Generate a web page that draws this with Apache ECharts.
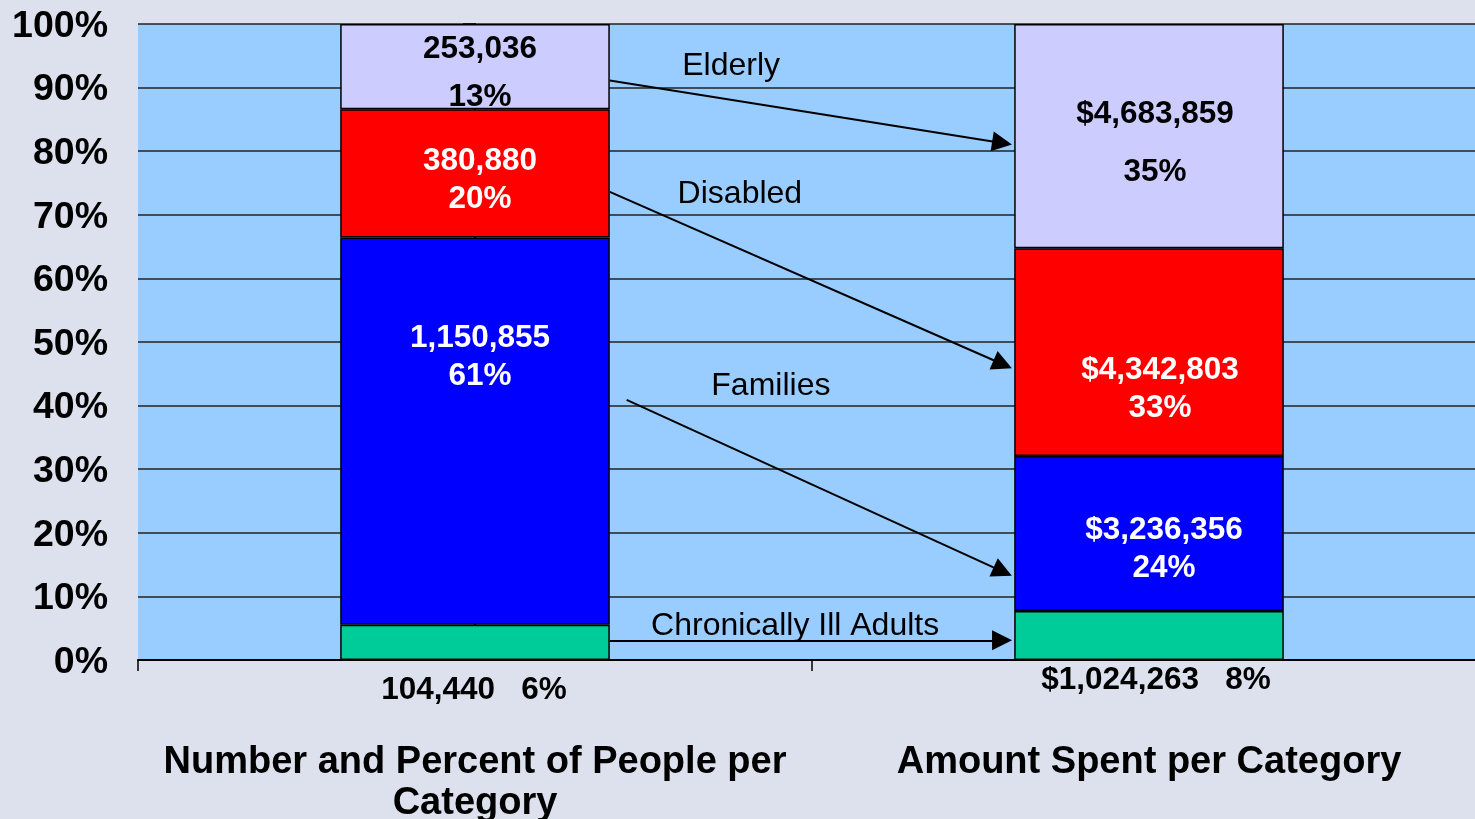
<!DOCTYPE html>
<html>
<head>
<meta charset="utf-8">
<title>People and Spending per Category</title>
<script src="https://cdn.jsdelivr.net/npm/echarts@6/dist/echarts.min.js"></script>
<style>
  html, body { margin: 0; padding: 0; background: #dde1ed; }
  #chart { width: 1475px; height: 819px; }
</style>
</head>
<body>
<div id="chart"></div>
<script>
// Two stacked 100% columns: people per category and dollars spent per category.
const categories = ['Number and Percent of People per\nCategory', 'Amount Spent per Category'];
const valuePrefix = ['', '$'];

const chronicallyIll = [104440, 1024263];
const families = [1150855, 3236356];
const disabled = [380880, 4342803];
const elderly = [253036, 4683859];

const segmentNames = ['Chronically Ill Adults', 'Families', 'Disabled', 'Elderly'];
const segmentValues = [chronicallyIll, families, disabled, elderly];
const segmentColors = ['#00cc99', '#0000ff', '#ff0000', '#ccccff'];
const labelColors = ['#000000', '#ffffff', '#ffffff', '#000000'];

const yTickValues = [0, 10, 20, 30, 40, 50, 60, 70, 80, 90, 100];

// Arrows joining the two columns, in (category position, percent) units.
const arrowLabels = ['Elderly', 'Disabled', 'Families', 'Chronically Ill Adults'];
const arrowStart = [[0.2, 91.1], [0.2, 73.6], [0.225, 40.9], [0.2, 3.1]];
const arrowEnd = [[0.782, 81.3], [0.783, 46.5], [0.783, 13.9], [0.782, 3.1]];
const arrowLabelAt = [[0.380, 93.4], [0.393, 73.2], [0.439, 43.1], [0.475, 5.3]];

const FONT = "'Liberation Sans', Arial, sans-serif";

const totals = categories.map((_, i) => segmentValues.reduce((s, arr) => s + arr[i], 0));
const pct = (s, i) => segmentValues[s][i] / totals[i] * 100;
const fmt = (v) => v.toLocaleString('en-US');

// Label placement per segment and column: [dx, dy, lineHeight]
const labelLayout = [
  [[-1, 48, 34], [7, 45, 34]],
  [[5, -74, 38], [15, 16, 38]],
  [[5, 7, 38], [11, 37, 38]],
  [[5, 7, 48], [6, 7, 58]]
];

const barSeries = segmentNames.map((name, s) => ({
  name: name,
  type: 'bar',
  stack: 'share',
  barWidth: '40%',
  xAxisIndex: 0,
  yAxisIndex: 0,
  itemStyle: { color: segmentColors[s], borderColor: '#000', borderWidth: 1.5 },
  data: categories.map((_, i) => {
    const lay = labelLayout[s][i];
    const sep = s === 0 ? '   ' : '\n';
    return {
      value: pct(s, i),
      label: {
        show: true,
        position: 'inside',
        offset: [lay[0], lay[1]],
        lineHeight: lay[2],
        color: labelColors[s],
        fontFamily: FONT,
        fontWeight: 'bold',
        fontSize: 31.5,
        formatter: valuePrefix[i] + fmt(segmentValues[s][i]) + sep + Math.round(pct(s, i)) + '%'
      }
    };
  })
}));

const arrowSeries = {
  type: 'lines',
  coordinateSystem: 'cartesian2d',
  xAxisIndex: 1,
  yAxisIndex: 0,
  symbol: ['none', 'triangle'],
  symbolSize: 20,
  lineStyle: { color: '#000', width: 2, opacity: 1, curveness: 0 },
  silent: true,
  z: 5,
  data: arrowStart.map((p, k) => ({ coords: [p, arrowEnd[k]] }))
};

const arrowTextSeries = {
  type: 'scatter',
  xAxisIndex: 1,
  yAxisIndex: 0,
  symbolSize: 0,
  silent: true,
  z: 6,
  itemStyle: { opacity: 1 },
  label: {
    show: true,
    position: 'inside',
    color: '#000',
    opacity: 1,
    textBorderWidth: 0,
    fontFamily: FONT,
    fontSize: 32,
    formatter: (p) => p.name
  },
  data: arrowLabelAt.map((p, k) => ({ name: arrowLabels[k], value: p }))
};

const chart = echarts.init(document.getElementById('chart'), null, { renderer: 'canvas' });
chart.setOption({
  backgroundColor: '#dde1ed',
  animation: false,
  grid: {
    left: 138, right: -11, top: 24, bottom: 159,
    show: true, backgroundColor: '#99ccff', borderWidth: 0,
    containLabel: false, outerBoundsMode: 'none'
  },
  xAxis: [{
    type: 'category',
    data: categories,
    axisLine: { show: true, lineStyle: { color: '#000', width: 2 } },
    axisTick: { show: true, length: 11, lineStyle: { color: '#000', width: 1.5 } },
    axisLabel: {
      margin: 82,
      color: '#000',
      fontFamily: FONT,
      fontWeight: 'bold',
      fontSize: 38,
      lineHeight: 41,
      interval: 0
    },
    splitLine: { show: false }
  }, {
    type: 'value',
    min: -0.5,
    max: 1.5,
    show: false
  }],
  yAxis: [{
    type: 'value',
    min: 0,
    max: 100,
    interval: 10,
    axisLine: { show: true, lineStyle: { color: '#000', width: 2 } },
    axisTick: { show: true, inside: false, length: 12, lineStyle: { color: '#000', width: 1.5 } },
    axisLabel: {
      margin: 30,
      color: '#000',
      fontFamily: FONT,
      fontWeight: 'bold',
      fontSize: 37.5,
      formatter: (v) => (yTickValues.indexOf(v) >= 0 ? '{t|' + v + '%}' : ''),
      rich: {
        t: {
          color: '#000',
          fontFamily: FONT,
          fontWeight: 'bold',
          fontSize: 37.5,
          padding: [5, 0, 0, 0]
        }
      }
    },
    splitLine: { show: true, lineStyle: { color: '#222', width: 1.5 } }
  }],
  series: barSeries.concat([arrowSeries, arrowTextSeries])
});
</script>
</body>
</html>
